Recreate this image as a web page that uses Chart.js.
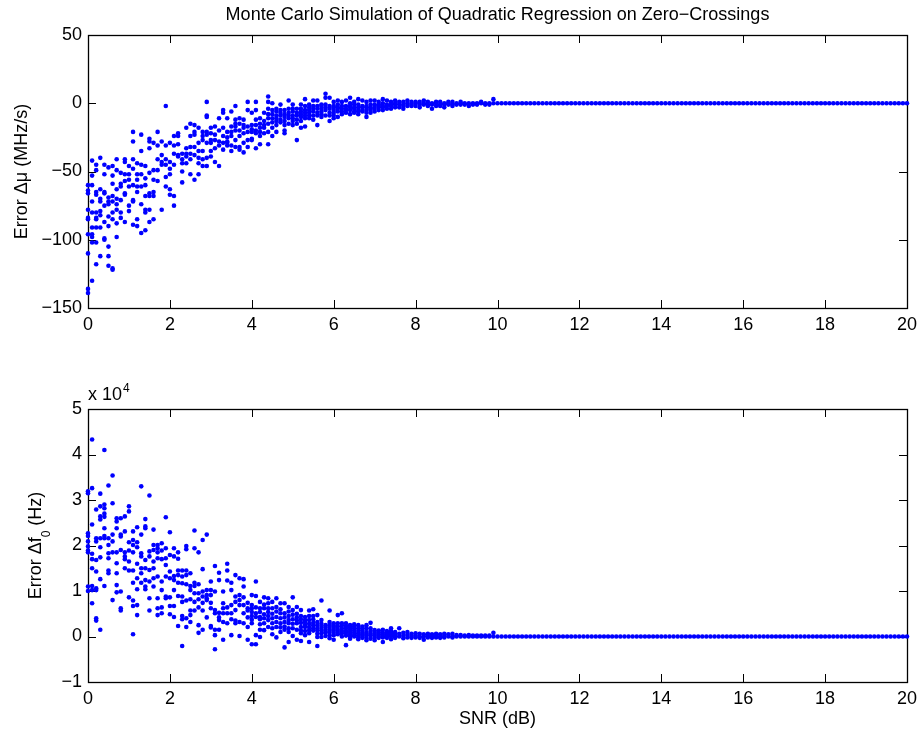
<!DOCTYPE html>
<html>
<head>
<meta charset="utf-8">
<script src="https://cdn.jsdelivr.net/npm/chart.js@4/dist/chart.umd.min.js"></script>
<style>
  html, body { margin: 0; padding: 0; background: #fff; overflow: hidden; }
  #wrap { position: relative; width: 920px; height: 735px; }
  canvas { position: absolute; left: 0; }
  #c1 { top: 0; }
  #c2 { top: 340px; }
</style>
</head>
<body>
<div id="wrap">
  <canvas id="c1" width="920" height="340"></canvas>
  <canvas id="c2" width="920" height="395"></canvas>
</div>
<script>
// ---------- DATA ----------
const chartTitle = "Monte Carlo Simulation of Quadratic Regression on Zero\u2212Crossings";
const xTicks = [0, 2, 4, 6, 8, 10, 12, 14, 16, 18, 20];
const muTicks = [-150, -100, -50, 0, 50];
const f0Ticks = [-1, 0, 1, 2, 3, 4, 5];

// SNR values (dB) where trials scatter
const snrDb = [0.0,0.1,0.2,0.3,0.4,0.5,0.6,0.7,0.8,0.9,1.0,1.1,1.2,1.3,1.4,1.5,1.6,1.7,1.8,1.9,
  2.0,2.1,2.2,2.3,2.4,2.5,2.6,2.7,2.8,2.9,3.0,3.1,3.2,3.3,3.4,3.5,3.6,3.7,3.8,3.9,
  4.0,4.1,4.2,4.3,4.4,4.5,4.6,4.7,4.8,4.9,5.0,5.1,5.2,5.3,5.4,5.5,5.6,5.7,5.8,5.9,
  6.0,6.1,6.2,6.3,6.4,6.5,6.6,6.7,6.8,6.9,7.0,7.1,7.2,7.3,7.4,7.5,7.6,7.7,7.8,7.9,
  8.0,8.1,8.2,8.3,8.4,8.5,8.6,8.7,8.8,8.9,9.0,9.1,9.2,9.3,9.4,9.5,9.6,9.7,9.8,9.9];

// Error in chirp rate (MHz/s), one list of trials per SNR value
const muErr = [
  [-60,-64,-66,-78,-84,-85,-96,-110,-136,-139],
  [-42,-53,-60,-72,-80,-91,-96,-98,-102,-130],
  [-45,-49,-65,-67,-80,-84,-85,-91,-102,-118],
  [-40,-63,-70,-72,-79,-82,-91,-112],
  [-45,-52,-65,-66,-75,-87,-99,-100],
  [-47,-69,-72,-74,-83,-90,-105,-112,-119],
  [-46,-53,-59,-68,-72,-80,-85,-121,-122],
  [-41,-49,-63,-70,-74,-78,-88,-98],
  [-51,-59,-61,-71,-80,-84],
  [-41,-43,-52,-57,-66,-67,-87],
  [-46,-52,-56,-61,-75,-79],
  [-21,-28,-41,-48,-60,-71,-72,-89],
  [-44,-52,-56,-61,-65,-85,-90],
  [-23,-35,-45,-52,-61,-74,-95],
  [-46,-55,-60,-68,-78,-80,-93],
  [-26,-28,-33,-51,-66,-68,-78,-87],
  [-29,-49,-56,-65,-68,-85],
  [-21,-31,-41,-49,-57],
  [-28,-38,-43,-45,-78],
  [-2,-31,-41,-45,-54,-61],
  [-29,-43,-48,-52,-63,-67],
  [-24,-31,-37,-45,-68,-75],
  [-22,-24,-30,-38,-39],
  [-37,-41,-44,-50,-58],
  [-18,-33,-37,-39,-44],
  [-15,-24,-32,-37,-41,-52],
  [-16,-21,-23,-32,-38,-56],
  [-18,-29,-35,-40,-44,-52],
  [-21,-24,-27,-35,-41,-46],
  [1,-9,-10,-21,-23,-29,-40,-46],
  [-18,-22,-27,-29,-35,-39],
  [-17,-23,-27,-33,-43],
  [-11,-20,-28,-31,-46],
  [-5,-7,-18,-24,-29,-34],
  [-11,-21,-25,-28,-29,-31],
  [-6,-17,-21,-24,-31,-35],
  [-2,-12,-15,-17,-20,-27,-32],
  [-11,-15,-20,-24,-32,-34],
  [-12,-16,-18,-22,-29,-36],
  [1,-5,-17,-21,-27,-32],
  [-7,-16,-19,-21,-26,-27],
  [1,-5,-12,-16,-20,-22,-33],
  [-11,-15,-18,-21,-24,-30],
  [-7,-13,-16,-18,-22],
  [5,1,-4,-8,-11,-15,-21,-30],
  [0,-5,-8,-11,-14,-18,-24],
  [-4,-6,-9,-11,-13,-16,-21],
  [-1,-5,-7,-9,-12,-14],
  [-5,-8,-10,-13,-16,-20,-22],
  [2,-4,-7,-9,-11,-15],
  [-1,-4,-6,-9,-11,-13,-16],
  [-4,-7,-9,-12,-15,-27],
  [-1,-4,-6,-8,-10,-13,-18],
  [3,-2,-5,-7,-9,-11,-17],
  [-1,-3,-5,-7,-9,-11],
  [2,-2,-4,-6,-9,-12],
  [2,-2,-4,-7,-9,-16],
  [-1,-2,-4,-6,-8,-10],
  [7,4,-1,-3,-5,-9],
  [4,-2,-4,-7,-9,-13],
  [1,-2,-3,-5,-7,-9,-11],
  [2,-1,-3,-4,-6,-10],
  [1,-2,-4,-6,-8],
  [2,-2,-4,-5,-7],
  [4,0,-2,-3,-5,-8],
  [1,-1,-3,-4,-6,-7],
  [3,-1,-3,-5,-6,-8],
  [2,-2,-3,-5,-6],
  [1,-2,-3,-5,-7,-10],
  [2,-1,-3,-4,-5,-7],
  [2,-1,-2,-4,-6],
  [1,-1,-2,-3,-5],
  [3,0,-2,-3,-5],
  [2,-1,-2,-4],
  [1,-1,-2,-4],
  [2,0,-1,-3],
  [1,-1,-3],
  [1,-1,-2,-4],
  [2,0,-2],
  [1,-1,-2],
  [1,0,-2],
  [1,-1,-3],
  [2,0,-1],
  [1,-1,-2],
  [0,-1,-4],
  [1,0,-2],
  [1,-1,-2],
  [0,-1,-3],
  [1,0,-1],
  [1,-1,-2],
  [0,-1],
  [1,0,-1],
  [0,-1],
  [0,-2],
  [0,-1],
  [0,-1],
  [1,0],
  [0,-1],
  [0,-1],
  [3,0]
];

// Error in start frequency, in units of 10^4 Hz, one list of trials per SNR value
const f0Err = [
  [3.19,3.15,2.27,2.21,2.09,1.98,1.89,1.85,1.10,1.00],
  [4.33,3.26,2.46,1.82,1.70,1.50,1.11,1.02,0.73],
  [2.79,2.16,2.09,1.68,1.43,1.06,1.02,0.40,0.35],
  [3.14,2.86,2.64,2.57,2.16,1.96,1.74,1.26,0.15],
  [4.10,2.90,2.82,2.70,2.63,2.38,2.21,2.16,1.11],
  [3.32,2.16,2.01,1.83,1.72,1.45,1.39],
  [3.54,2.93,2.24,2.09,1.85,0.80],
  [2.60,2.53,2.38,1.85,1.61,1.39,1.13,0.97],
  [2.60,2.24,2.20,1.90,0.99,0.62,0.57],
  [2.64,2.31,1.85,1.76,1.70,1.50],
  [2.86,2.75,2.07,1.89,1.65,1.45,0.86],
  [2.31,2.12,2.01,1.85,1.45,1.18,0.79,0.67,0.05],
  [2.40,2.07,1.96,1.60,1.28,1.04,0.69,0.47],
  [3.30,2.24,1.83,1.76,1.50,1.39,1.18],
  [2.58,2.42,2.38,1.68,1.50,1.24,1.10,1.04],
  [3.10,1.87,1.76,1.46,1.21,0.84,0.57],
  [2.35,2.01,1.90,1.65,1.50,1.28,1.10],
  [2.01,1.94,1.85,1.72,1.32,0.84,0.62,0.47],
  [2.05,1.89,1.70,1.21,1.02,0.64,0.51],
  [2.62,1.94,1.72,1.57,1.32,0.88,0.84],
  [2.29,1.79,1.43,1.28,0.86,0.67,0.49],
  [1.94,1.76,1.33,1.24,1.02,0.67,0.43],
  [1.85,1.71,1.45,1.35,1.18,0.89,0.23],
  [1.45,1.32,1.17,0.88,0.76,0.45,0.38,-0.21],
  [1.99,1.92,1.45,1.35,1.15,0.79,0.40,0.21],
  [1.39,1.11,1.02,0.82,0.57,0.47,0.32],
  [2.33,1.94,1.18,1.11,0.95,0.76,0.57],
  [1.85,1.15,0.95,0.82,0.64,0.25,0.08],
  [2.12,1.48,0.99,0.88,0.74,0.57,0.15],
  [2.24,1.02,0.91,0.84,0.80,0.42],
  [1.21,1.02,0.91,0.74,0.62,0.23,0.20],
  [1.55,0.99,0.58,0.51,0.15,0.03,-0.28],
  [1.40,1.24,0.52,0.42,0.36,0.15],
  [0.99,0.73,0.62,0.51,0.32,-0.07],
  [1.60,1.45,1.23,0.64,0.51,0.29],
  [1.18,1.02,0.69,0.51,0.38,0.03],
  [1.35,0.88,0.76,0.58,0.35,0.29],
  [1.28,0.91,0.80,0.69,0.32,0.01],
  [1.26,1.10,0.86,0.69,0.51,0.29],
  [0.74,0.62,0.57,0.42,0.21,-0.07],
  [0.91,0.69,0.62,0.54,0.45,0.37,0.29,-0.17],
  [1.21,0.89,0.64,0.51,0.43,0.03,-0.17],
  [0.76,0.62,0.54,0.43,0.38,0.27,0.15,-0.01],
  [0.86,0.70,0.62,0.49,0.40,0.29,0.14],
  [0.84,0.73,0.62,0.54,0.45,0.36,0.21],
  [0.76,0.62,0.50,0.40,0.29,0.18,0.05],
  [0.84,0.65,0.55,0.43,0.32,0.21,-0.02],
  [0.73,0.60,0.51,0.40,0.29,0.20,0.10],
  [0.73,0.51,0.42,0.32,0.22,0.15,-0.24],
  [0.65,0.55,0.45,0.36,0.29,0.18,0.10,-0.12],
  [0.86,0.58,0.48,0.38,0.28,0.18,0.01],
  [0.65,0.50,0.42,0.35,0.29,0.15,-0.07],
  [0.58,0.45,0.38,0.30,0.21,0.13,0.07,-0.10],
  [0.43,0.36,0.32,0.26,0.21,0.12,0.03],
  [0.57,0.45,0.36,0.28,0.21,0.14,0.07,-0.12],
  [0.60,0.45,0.38,0.30,0.25,0.18,0.13],
  [0.47,0.32,0.25,0.18,0.13,0.06,-0.01,-0.21],
  [0.79,0.36,0.28,0.21,0.14,0.07,-0.01],
  [0.25,0.20,0.15,0.10,0.08,0.01],
  [0.57,0.32,0.26,0.21,0.15,0.10,0.03,-0.04],
  [0.29,0.24,0.21,0.17,0.13,0.08,0.03,-0.07],
  [0.47,0.29,0.22,0.15,0.10,0.05],
  [0.51,0.29,0.24,0.18,0.12,0.07,0.0],
  [0.29,0.23,0.18,0.12,0.08,0.02,-0.19],
  [0.25,0.20,0.15,0.10,0.05,0.0,-0.05],
  [0.27,0.22,0.18,0.13,0.08,0.03,0.0],
  [0.25,0.18,0.12,0.07,0.03,-0.02,-0.06],
  [0.22,0.18,0.14,0.09,0.05,0.01,-0.03],
  [0.25,0.18,0.10,0.06,0.02,-0.03,-0.08],
  [0.30,0.18,0.12,0.06,0.02,-0.05],
  [0.14,0.10,0.06,0.02,-0.02,-0.08],
  [0.13,0.09,0.05,0.01,-0.03],
  [0.15,0.08,0.04,0.0,-0.02,-0.12],
  [0.12,0.08,0.05,0.01,-0.03],
  [0.18,0.12,0.08,0.04,0.0,-0.06],
  [0.10,0.06,0.03,0.0,-0.03],
  [0.18,0.06,0.0],
  [0.08,0.02,-0.04],
  [0.10,0.04,-0.02],
  [0.06,0.01,-0.03],
  [0.07,0.02,-0.02],
  [0.06,0.0,-0.03],
  [0.05,0.0,-0.07],
  [0.06,0.01,-0.02],
  [0.05,0.0,-0.03],
  [0.06,0.01,-0.02],
  [0.05,0.0,-0.03],
  [0.06,0.01,-0.02],
  [0.05,0.0],
  [0.06,0.0,-0.02],
  [0.03,0.0],
  [0.03,0.0],
  [0.02,0.0],
  [0.03,0.0],
  [0.02,0.0],
  [0.02,0.0],
  [0.02,0.0],
  [0.02,0.0],
  [0.02,0.0],
  [0.08,0.0]
];

// Converged region: every trial gives (near) zero error
const snrFlat = [10.0,10.1,10.2,10.3,10.4,10.5,10.6,10.7,10.8,10.9,11.0,11.1,11.2,11.3,11.4,11.5,11.6,11.7,11.8,11.9,
  12.0,12.1,12.2,12.3,12.4,12.5,12.6,12.7,12.8,12.9,13.0,13.1,13.2,13.3,13.4,13.5,13.6,13.7,13.8,13.9,
  14.0,14.1,14.2,14.3,14.4,14.5,14.6,14.7,14.8,14.9,15.0,15.1,15.2,15.3,15.4,15.5,15.6,15.7,15.8,15.9,
  16.0,16.1,16.2,16.3,16.4,16.5,16.6,16.7,16.8,16.9,17.0,17.1,17.2,17.3,17.4,17.5,17.6,17.7,17.8,17.9,
  18.0,18.1,18.2,18.3,18.4,18.5,18.6,18.7,18.8,18.9,19.0,19.1,19.2,19.3,19.4,19.5,19.6,19.7,19.8,19.9,20.0];
const muFlat = [0,0,0,0,0,0,0,0,0,0,0,0,0,0,0,0,0,0,0,0,0,0,0,0,0,0,0,0,0,0,0,0,0,0,0,0,0,0,0,0,0,0,0,0,0,0,0,0,0,0,
  0,0,0,0,0,0,0,0,0,0,0,0,0,0,0,0,0,0,0,0,0,0,0,0,0,0,0,0,0,0,0,0,0,0,0,0,0,0,0,0,0,0,0,0,0,0,0,0,0,0,0];
const f0Flat = [0,0,0,0,0,0,0,0,0,0,0,0,0,0,0,0,0,0,0,0,0,0,0,0,0,0,0,0,0,0,0,0,0,0,0,0,0,0,0,0,0,0,0,0,0,0,0,0,0,0,
  0,0,0,0,0,0,0,0,0,0,0,0,0,0,0,0,0,0,0,0,0,0,0,0,0,0,0,0,0,0,0,0,0,0,0,0,0,0,0,0,0,0,0,0,0,0,0,0,0,0,0];

// ---------- BUILD ----------
function buildPoints(xs, cols, xsFlat, flat) {
  const pts = [];
  xs.forEach((x, i) => cols[i].forEach(v => pts.push({x: x, y: v})));
  xsFlat.forEach((x, i) => pts.push({x: x, y: flat[i]}));
  return pts;
}

const FONT = "'Liberation Sans', Arial, Helvetica, sans-serif";
const BLUE = '#0000ff';
const minusFmt = v => String(v).replace('-', '\u2212');

// Box + inward ticks (MATLAB style)
const boxTicks = {
  id: 'boxTicks',
  beforeDatasetsDraw(chart) {
    const {ctx, chartArea: a, scales} = chart;
    const L = 8;
    ctx.save();
    ctx.strokeStyle = '#000';
    ctx.lineWidth = 1;
    ctx.beginPath();
    scales.x.ticks.forEach(t => {
      const px = Math.round(scales.x.getPixelForValue(t.value)) + 0.5;
      ctx.moveTo(px, a.bottom); ctx.lineTo(px, a.bottom - L);
      ctx.moveTo(px, a.top); ctx.lineTo(px, a.top + L);
    });
    scales.y.ticks.forEach(t => {
      const py = Math.round(scales.y.getPixelForValue(t.value)) + 0.5;
      ctx.moveTo(a.left, py); ctx.lineTo(a.left + L, py);
      ctx.moveTo(a.right, py); ctx.lineTo(a.right - L, py);
    });
    ctx.stroke();
    ctx.lineWidth = 1.3;
    ctx.strokeRect(Math.round(a.left) + 0.5, Math.round(a.top) + 0.5,
                   Math.round(a.right - a.left), Math.round(a.bottom - a.top));
    ctx.restore();
  }
};

// Text with sub/superscripts drawn on the bottom panel
const f0Text = {
  id: 'f0Text',
  afterDraw(chart) {
    const {ctx, chartArea: a} = chart;
    ctx.save();
    ctx.fillStyle = '#000';
    ctx.textBaseline = 'alphabetic';
    // multiplier "x 10^4"
    ctx.font = '18px ' + FONT;
    ctx.textAlign = 'left';
    const base = 'x 10';
    ctx.fillText(base, a.left, a.top - 9);
    const w = ctx.measureText(base).width;
    ctx.font = '12px ' + FONT;
    ctx.fillText('4', a.left + w + 1, a.top - 17);
    // y-axis label "Error Δf0 (Hz)" with subscript
    const partA = 'Error \u0394f', sub = '0', partB = ' (Hz)';
    ctx.font = '18px ' + FONT;
    const wA = ctx.measureText(partA).width, wB = ctx.measureText(partB).width;
    ctx.font = '12px ' + FONT;
    const wS = ctx.measureText(sub).width;
    const total = wA + wS + wB;
    ctx.translate(40.5, (a.top + a.bottom) / 2);
    ctx.rotate(-Math.PI / 2);
    let x0 = -total / 2;
    ctx.font = '18px ' + FONT;
    ctx.fillText(partA, x0, 0);
    ctx.font = '12px ' + FONT;
    ctx.fillText(sub, x0 + wA, 9);
    ctx.font = '18px ' + FONT;
    ctx.fillText(partB, x0 + wA + wS, 0);
    ctx.restore();
  }
};

function xScale(height, title) {
  return {
    type: 'linear', position: 'bottom', min: 0, max: 20,
    afterBuildTicks: s => { s.ticks = xTicks.map(v => ({value: v})); },
    afterFit: s => { s.height = height; s.paddingLeft = 0; s.paddingRight = 0; },
    grid: {display: false, drawTicks: false},
    border: {display: false},
    ticks: {color: '#000', font: {family: FONT, size: 18}, padding: 6, maxRotation: 0,
            callback: v => minusFmt(v)},
    title: title ? {display: true, text: title, color: '#000', font: {family: FONT, size: 18},
                    padding: {top: 0, bottom: 5}} : {display: false}
  };
}
function yScale(min, max, ticks, title) {
  return {
    type: 'linear', position: 'left', min: min, max: max,
    afterBuildTicks: s => { s.ticks = ticks.map(v => ({value: v})); },
    afterFit: s => { s.width = 88; s.paddingTop = 0; s.paddingBottom = 0; },
    grid: {display: false, drawTicks: false},
    border: {display: false},
    ticks: {color: '#000', font: {family: FONT, size: 18}, padding: 6,
            callback: v => minusFmt(v)},
    title: title ? {display: true, text: title, color: '#000', font: {family: FONT, size: 18},
                    padding: {top: 11, bottom: 0}} : {display: false}
  };
}
const dsStyle = {backgroundColor: BLUE, borderColor: BLUE, pointRadius: 2.3, pointBorderWidth: 0,
                 pointHoverRadius: 2.3, showLine: false, clip: false};

new Chart(document.getElementById('c1'), {
  type: 'scatter',
  data: {datasets: [Object.assign({label: 'Error \u0394\u03bc', data: buildPoints(snrDb, muErr, snrFlat, muFlat)}, dsStyle)]},
  options: {
    responsive: false, animation: false, devicePixelRatio: 1,
    layout: {padding: {left: 0, right: 13, top: 0, bottom: 0}},
    plugins: {
      legend: {display: false}, tooltip: {enabled: false},
      title: {display: true, text: chartTitle, color: '#000', fullSize: false,
              font: {family: FONT, size: 18, weight: 'normal'}, padding: {top: 4, bottom: 9.4}}
    },
    scales: {
      x: xScale(32, null),
      y: yScale(-150, 50, muTicks, 'Error \u0394\u03bc (MHz/s)')
    }
  },
  plugins: [boxTicks]
});

new Chart(document.getElementById('c2'), {
  type: 'scatter',
  data: {datasets: [Object.assign({label: 'Error \u0394f0', data: buildPoints(snrDb, f0Err, snrFlat, f0Flat)}, dsStyle)]},
  options: {
    responsive: false, animation: false, devicePixelRatio: 1,
    layout: {padding: {left: 0, right: 13, top: 69, bottom: 0}},
    plugins: {legend: {display: false}, tooltip: {enabled: false}},
    scales: {
      x: xScale(53, 'SNR (dB)'),
      y: yScale(-1, 5, f0Ticks, null)
    }
  },
  plugins: [boxTicks, f0Text]
});
</script>
</body>
</html>
